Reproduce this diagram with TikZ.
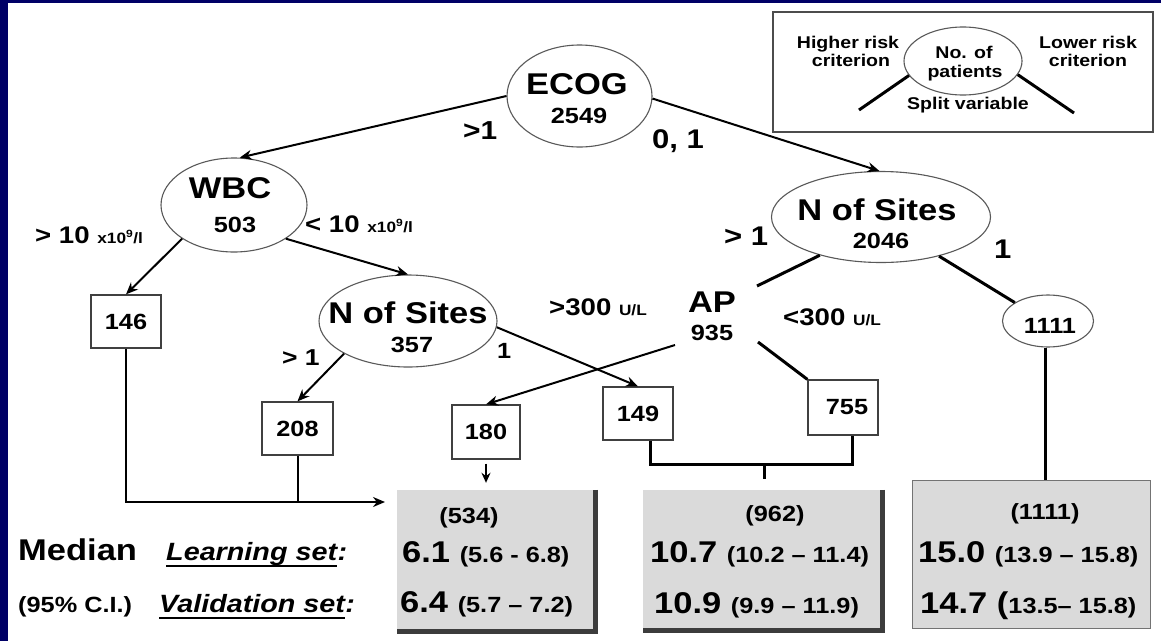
\documentclass[tikz,border=0pt]{standalone}
\usepackage{fontspec}
\setmainfont{Liberation Sans}[FakeStretch=1.15]
\usetikzlibrary{shapes.geometric,arrows.meta}
\definecolor{navy}{RGB}{0,0,102}
\definecolor{boxgray}{RGB}{218,218,218}
\definecolor{shadecol}{RGB}{60,60,60}
\newcommand\fsz[1]{\fontsize{#1}{#1}\selectfont\bfseries}
\begin{document}
\begin{tikzpicture}[x=1pt,y=-1pt,
  ell/.style={draw=black!65, line width=1.1pt, ellipse, inner sep=0pt},
  leaf/.style={draw=black!75, line width=1.3pt, rectangle, inner sep=0pt, font=\fsz{22}},
  arr/.style={line width=2pt, -{Stealth[length=12pt,width=10pt]}},
  thk/.style={line width=3pt},
  big/.style={font=\fsz{30}, inner sep=0pt, anchor=base},
  num/.style={font=\fsz{22}, inner sep=0pt, anchor=base},
  lab/.style={inner sep=0pt, anchor=base west},
  ctr/.style={inner sep=0pt, anchor=base},
  gbox/.style={fill=boxgray, inner sep=0pt, rectangle},
  shadeline/.style={draw=shadecol, line width=5pt},
  uline/.style={line width=1.8pt}
 ]
\useasboundingbox (0,0) rectangle (1161,640);
\fill[white] (-20,-20) rectangle (1181,660);
\fill[navy] (-20,-20) rectangle (8,660);
\fill[navy] (-20,-20) rectangle (1181,3);

% legend
\node[draw=black!70, line width=1.2pt, rectangle, inner sep=0pt, minimum width=380pt, minimum height=120pt] (leg) at (963,72) {};
\node[ell, minimum width=118pt, minimum height=68pt] (legE) at (963,61) {};
\node[ctr, font=\fsz{17}] (legN1) at (964,58) {No. of};
\node[ctr, font=\fsz{17}] (legN2) at (965,77) {patients};
\node[ctr, font=\fsz{17}] (legH1) at (848,48) {Higher risk};
\node[ctr, font=\fsz{17}] (legH2) at (851,66) {criterion};
\node[ctr, font=\fsz{17}] (legL1) at (1088,48) {Lower risk};
\node[ctr, font=\fsz{17}] (legL2) at (1088,66) {criterion};
\node[ctr, font=\fsz{17}] (legS) at (968,109) {Split variable};
\coordinate (legLend) at (859,110);
\coordinate (legRend) at (1074,113);
\draw[thk] (legE.195) -- (legLend);
\draw[thk] (legE.346) -- (legRend);

% split nodes
\node[ell, minimum width=145pt, minimum height=102pt] (ecog) at (579.5,96) {};
\node[big] (ecogT) at (577,94) {ECOG};
\node[num] (ecogN) at (579,123) {2549};

\node[ell, minimum width=146pt, minimum height=94pt] (wbc) at (234,205) {};
\node[big] (wbcT) at (230,198) {WBC};
\node[num] (wbcN) at (235,232) {503};

\node[ell, minimum width=178pt, minimum height=92pt] (n357) at (408,321) {};
\node[big] (n357T) at (408,323) {N of Sites};
\node[num] (n357N) at (412,352) {357};

\node[ell, minimum width=219pt, minimum height=91pt] (nos2) at (881,217) {};
\node[big] (nos2T) at (877,220) {N of Sites};
\node[num] (nos2N) at (881,248) {2046};

\node[ell, minimum width=91pt, minimum height=52pt] (n1111) at (1048,321) {};
\node[num] (n1111N) at (1050,333) {1111};

\node[big] (apT) at (712,312) {AP};
\node[num] (apN) at (712,340) {935};
\coordinate (apNE) at (757,286);
\coordinate (apSW) at (675,345);
\coordinate (apSE) at (758,342);

% leaves
\node[leaf, minimum width=70pt, minimum height=53pt] (b146) at (126,321.5) {146};
\node[leaf, minimum width=71pt, minimum height=53pt] (b208) at (297.5,428.5) {208};
\node[leaf, minimum width=68pt, minimum height=54pt] (b180) at (486,432) {180};
\node[leaf, minimum width=70pt, minimum height=53pt] (b149) at (638,413.5) {149};
\node[leaf, minimum width=70pt, minimum height=55pt] (b755) at (843,407.5) {\hspace*{8pt}755};

% edge labels
\node[lab, font=\fsz{26}] (lE1) at (463,139) {>1};
\node[lab, font=\fsz{27}] (lE2) at (652,148) {0, 1};
\node[lab, font=\fsz{24}] (lW1) at (35,243) {> 10 \fsz{15}x10\textsuperscript{9}/l};
\node[lab, font=\fsz{24}] (lW2) at (305,232) {< 10 \fsz{15}x10\textsuperscript{9}/l};
\node[lab, font=\fsz{23}] (lS1) at (282,365) {> 1};
\node[lab, font=\fsz{22}] (lS2) at (497,358) {1};
\node[lab, font=\fsz{27}] (lN1) at (724,245) {> 1};
\node[lab, font=\fsz{27}] (lN2) at (994,258) {1};
\node[lab, font=\fsz{24}] (lA1) at (549,315) {>300 \fsz{15}U/L};
\node[lab, font=\fsz{24}] (lA2) at (783,325) {<300 \fsz{15}U/L};

% result boxes
\node[gbox, minimum width=201pt, minimum height=144pt] (g1) at (497.5,562) {};
\node[gbox, minimum width=242pt, minimum height=143pt] (g2) at (764,561.5) {};
\node[gbox, draw=black!55, line width=1pt, minimum width=238pt, minimum height=148pt] (g3) at (1031,554) {};
\draw[shadeline] ([xshift=-3pt]g1.north east) |- ([yshift=3pt]g1.south west);
\draw[shadeline] ([xshift=-3pt]g2.north east) |- ([yshift=3pt]g2.south west);

\node[ctr, font=\fsz{22}] (g1h) at (469,523) {(534)};
\node[lab] (g1a) at (402,562) {\fsz{30}6.1 \fsz{22}(5.6 - 6.8)};
\node[lab] (g1b) at (400,612) {\fsz{30}6.4 \fsz{22}(5.7 – 7.2)};
\node[ctr, font=\fsz{22}] (g2h) at (775,521) {(962)};
\node[lab] (g2a) at (650,562) {\fsz{30}10.7 \fsz{22}(10.2 – 11.4)};
\node[lab] (g2b) at (654,613) {\fsz{30}10.9 \fsz{22}(9.9 – 11.9)};
\node[ctr, font=\fsz{22}] (g3h) at (1045,519) {(1111)};
\node[lab] (g3a) at (918,562) {\fsz{30}15.0 \fsz{22}(13.9 – 15.8)};
\node[lab] (g3b) at (920,613) {\fsz{30}14.7 (\fsz{22}13.5– 15.8)};

% row labels
\node[lab, font=\fsz{30}] (med) at (18,560) {Median};
\node[lab, font=\fsz{25}\itshape] (ls) at (166,560) {Learning set};
\node[lab, font=\fsz{25}\itshape] (lsc) at (ls.base east) {:};
\draw[uline] ([yshift=-6pt]ls.base west) -- ([yshift=-6pt]ls.base east);
\node[lab, font=\fsz{22}] (ci) at (18,612) {(95\% C.I.)};
\node[lab, font=\fsz{25}\itshape] (vs) at (159,612) {Validation set};
\node[lab, font=\fsz{25}\itshape] (vsc) at (vs.base east) {:};
\draw[uline] ([yshift=-6pt]vs.base west) -- ([yshift=-6pt]vs.base east);

% connectors
\draw[arr] (ecog.west) -- (wbc.83);
\draw[arr] (ecog.-2) -- (nos2.92);
\draw[arr] (wbc.213) -- (b146.north);
\draw[arr] (wbc.327) -- (n357.north);
\draw[arr] (n357.207) -- (b208.north);
\draw[arr] (n357.356) -- (b149.north);
\draw[arr] (apSW) -- (b180.north);
\draw[thk] (nos2.212) -- (apNE);
\draw[thk] (apSE) -- (b755.north west);
\draw[thk] (nos2.326) -- (n1111.151);
\draw[thk] ([xshift=-3pt]n1111.south) -- ([xshift=-3pt]n1111.south |- g3.north);

\coordinate (tip534) at (385,502);
\draw[arr] (b146.south) |- (tip534);
\draw[line width=2pt] (b208.south) -- (b208.south |- tip534);
\draw[line width=2pt, -{Stealth[length=10pt,width=9pt]}, shorten <=4pt, shorten >=7pt] (b180.south) -- (b180.south |- g1.north);

\coordinate (brk) at (764,464);
\draw[thk] ([xshift=12pt]b149.south) |- (brk) -| ([xshift=9pt]b755.south);
\draw[thk] (brk) -- ([yshift=11pt]brk |- g2.north);
\end{tikzpicture}
\end{document}
